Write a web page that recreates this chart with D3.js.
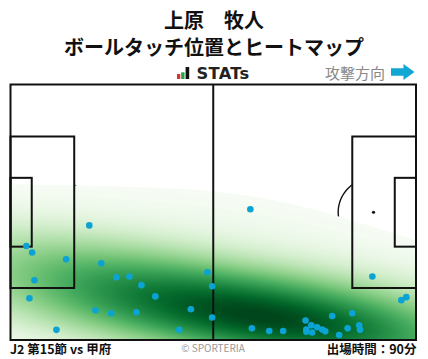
<!DOCTYPE html>
<html><head><meta charset="utf-8">
<script src="https://cdn.jsdelivr.net/npm/d3@7"></script>
<style>
html,body{margin:0;padding:0;background:#fff;}
svg{display:block;}
</style></head>
<body>
<script>
// ---- data (pitch metres: x 0..105 attacking right, y 0..68 top->bottom) ----
const playerName = "上原　牧人";
const chartTitle = "ボールタッチ位置とヒートマップ";
const matchLabel = "J2 第15節 vs 甲府";
const minutesLabel = "出場時間：90分";
const touchX = [20.4, 4.1, 5.6, 14.4, 23.5, 6.2, 27.4, 30.8, 33.9, 4.9, 37.5, 51.0, 52.2, 22.0, 26.1, 32.6, 46.7, 52.2, 11.9, 43.7,
  62.1, 93.7, 101.2, 102.5, 88.5, 83.3, 76.4, 77.9, 76.6, 76.6, 78.1, 79.4, 80.7, 81.5, 85.1, 87.3, 90.3, 90.5, 62.5, 67.0, 70.6];
const touchY = [37.5, 43.0, 44.7, 46.5, 47.6, 52.1, 51.3, 51.1, 53.4, 56.9, 56.4, 50.0, 53.7, 60.1, 60.9, 60.6, 59.8, 62.0, 65.3, 65.3,
  33.2, 51.1, 57.4, 56.6, 60.9, 61.6, 62.8, 64.1, 65.2, 65.8, 66.0, 64.6, 65.2, 65.7, 66.7, 64.9, 64.1, 65.3, 64.9, 65.6, 65.6];

const W = 428, H = 359;
const JP = "'Noto Sans CJK JP','Noto Sans',sans-serif";
const svg = d3.select("body").append("svg").attr("width", W).attr("height", H);
svg.append("rect").attr("width", W).attr("height", H).attr("fill", "#fff");

const xScale = d3.scaleLinear().domain([0, 105]).range([10.5, 416]);
const yScale = d3.scaleLinear().domain([0, 68]).range([84.5, 340]);

function txt(x, y, s, size, opts) {
  const t = svg.append("text").attr("x", x).attr("y", y).text(s)
    .style("font-family", (opts && opts.family) || JP).style("font-size", size + "px")
    .style("font-weight", (opts && opts.weight) || "normal").attr("fill", (opts && opts.fill) || "#111")
    .attr("text-anchor", (opts && opts.anchor) || "start");
  if (opts && opts.ls) t.style("letter-spacing", opts.ls + "px");
  return t;
}

// ---- titles ----
txt(214, 28.3, playerName, 20, { weight: "bold", anchor: "middle" });
txt(214, 55, chartTitle, 20, { weight: "bold", anchor: "middle" });

// STATs logo
const logo = svg.append("g");
logo.append("rect").attr("x", 177).attr("y", 74).attr("width", 3.3).attr("height", 5).attr("fill", "#e8302a");
logo.append("rect").attr("x", 181.2).attr("y", 72.3).attr("width", 3.3).attr("height", 6.7).attr("fill", "#1fa64a");
logo.append("rect").attr("x", 185.6).attr("y", 67).attr("width", 3.6).attr("height", 12).attr("fill", "#111");
txt(196.5, 79.3, "STATs", 16.3, { family: "'DejaVu Sans',sans-serif", weight: "bold", fill: "#222", ls: 0.3 });

// attack direction
txt(385, 78.5, "攻撃方向", 15, { anchor: "end", fill: "#888" });
svg.append("path").attr("d", "M391,68.3 L403.5,68.3 L403.5,64 L414.5,72 L403.5,80 L403.5,75.7 L391,75.7 Z")
  .attr("fill", "#12a6d2");

// ---- pitch markings under heatmap (arcs, spots) ----
const under = svg.append("g");
function arcPts(cx, cy, r, a0, a1) {
  return d3.range(0, 41).map(i => {
    const a = a0 + (a1 - a0) * i / 40;
    return [xScale(cx + r * Math.cos(a)), yScale(cy + r * Math.sin(a))];
  });
}
const aa = Math.acos(5.5 / 9.15);
const lineGen = d3.line();
under.append("path").attr("d", lineGen(arcPts(11, 34, 9.15, -aa, aa)))
  .attr("fill", "none").attr("stroke", "#111").attr("stroke-width", 1.4);
under.append("path").attr("d", lineGen(arcPts(94, 34, 9.15, Math.PI - aa, Math.PI + aa)))
  .attr("fill", "none").attr("stroke", "#111").attr("stroke-width", 1.4);
[[11, 34], [94, 34]].forEach(p => {
  under.append("circle").attr("cx", xScale(p[0])).attr("cy", yScale(p[1])).attr("r", 1.6).attr("fill", "#111");
});

// ---- KDE heatmap (gaussian kde, widened Scott bandwidth) ----
const bwAdjust = 2.0;
const pts = touchX.map((x, i) => [xScale(x), yScale(touchY[i])]);
const n = pts.length;
const mx = d3.mean(pts, d => d[0]), my = d3.mean(pts, d => d[1]);
let sxx = 0, syy = 0, sxy = 0;
pts.forEach(p => { sxx += (p[0] - mx) ** 2; syy += (p[1] - my) ** 2; sxy += (p[0] - mx) * (p[1] - my); });
sxx /= (n - 1); syy /= (n - 1); sxy /= (n - 1);
const f2 = Math.pow(n, -1 / 3) * bwAdjust * bwAdjust;
const hxx = sxx * f2, hyy = syy * f2, hxy = sxy * f2;
const det = hxx * hyy - hxy * hxy;
const ixx = hyy / det, iyy = hxx / det, ixy = -hxy / det;
const bwx = Math.sqrt(hxx), bwy = Math.sqrt(hyy);
const gx0 = d3.min(pts, d => d[0]) - 3 * bwx, gx1 = d3.max(pts, d => d[0]) + 3 * bwx;
const gy0 = d3.min(pts, d => d[1]) - 3 * bwy, gy1 = d3.max(pts, d => d[1]) + 3 * bwy;
const G = 200;
const sx = (gx1 - gx0) / (G - 1), sy = (gy1 - gy0) / (G - 1);
const grid = new Float64Array(G * G);
for (let j = 0; j < G; j++) {
  const yy = gy0 + j * sy;
  for (let i = 0; i < G; i++) {
    const xx = gx0 + i * sx;
    let s = 0;
    for (let k = 0; k < n; k++) {
      const dx = xx - pts[k][0], dy = yy - pts[k][1];
      s += Math.exp(-0.5 * (ixx * dx * dx + 2 * ixy * dx * dy + iyy * dy * dy));
    }
    grid[j * G + i] = s;
  }
}
// iso-proportion levels
const sorted = Array.from(grid).sort((a, b) => b - a);
const total = d3.sum(sorted);
const cum = []; let acc = 0;
sorted.forEach(v => { acc += v; cum.push(acc / total); });
const nLevels = 100, thresh = 0.05;
const levels = d3.range(nLevels).map(i => {
  const q = thresh + (1 - thresh) * i / (nLevels - 1);
  const idx = Math.min(d3.bisectLeft(cum, 1 - q), sorted.length - 1);
  return sorted[idx];
});
const lmin = levels[0], lmax = levels[levels.length - 1];
const contours = d3.contours().size([G, G]).thresholds(levels.slice(0, -1))(grid);
const proj = d3.geoTransform({ point: function (x, y) { this.stream.point(gx0 + (x - 0.5) * sx, gy0 + (y - 0.5) * sy); } });
const gpath = d3.geoPath(proj);
svg.append("clipPath").attr("id", "pclip").append("rect")
  .attr("x", xScale(0)).attr("y", yScale(0)).attr("width", xScale(105) - xScale(0)).attr("height", yScale(68) - yScale(0));
const heat = svg.append("g").attr("clip-path", "url(#pclip)");
contours.forEach((c, i) => {
  const mid = (levels[i] + levels[i + 1]) / 2;
  heat.append("path").attr("d", gpath(c)).attr("fill", d3.interpolateGreens((mid - lmin) / (lmax - lmin)));
});

// ---- pitch lines over heatmap ----
const lines = svg.append("g").attr("fill", "none").attr("stroke", "#111").attr("stroke-width", 2);
function rectM(x0, y0, x1, y1) {
  lines.append("rect").attr("x", xScale(x0)).attr("y", yScale(y0))
    .attr("width", xScale(x1) - xScale(x0)).attr("height", yScale(y1) - yScale(y0));
}
rectM(0, 0, 105, 68);
rectM(0, 13.84, 16.5, 54.16);
rectM(88.5, 13.84, 105, 54.16);
rectM(0, 24.84, 5.5, 43.16);
rectM(99.5, 24.84, 105, 43.16);
lines.append("line").attr("x1", xScale(52.5)).attr("x2", xScale(52.5)).attr("y1", yScale(0)).attr("y2", yScale(68));

// ---- touches ----
svg.append("g").selectAll("circle").data(pts).join("circle")
  .attr("cx", d => d[0]).attr("cy", d => d[1]).attr("r", 3.3).attr("fill", "#0aa3d3");

// ---- footer ----
txt(10, 353.5, matchLabel, 12.5, { weight: "bold" });
txt(213, 352, "© SPORTERIA", 10, { anchor: "middle", fill: "#999" });
txt(416.5, 353.5, minutesLabel, 12.5, { weight: "bold", anchor: "end" });
</script>
</body></html>
